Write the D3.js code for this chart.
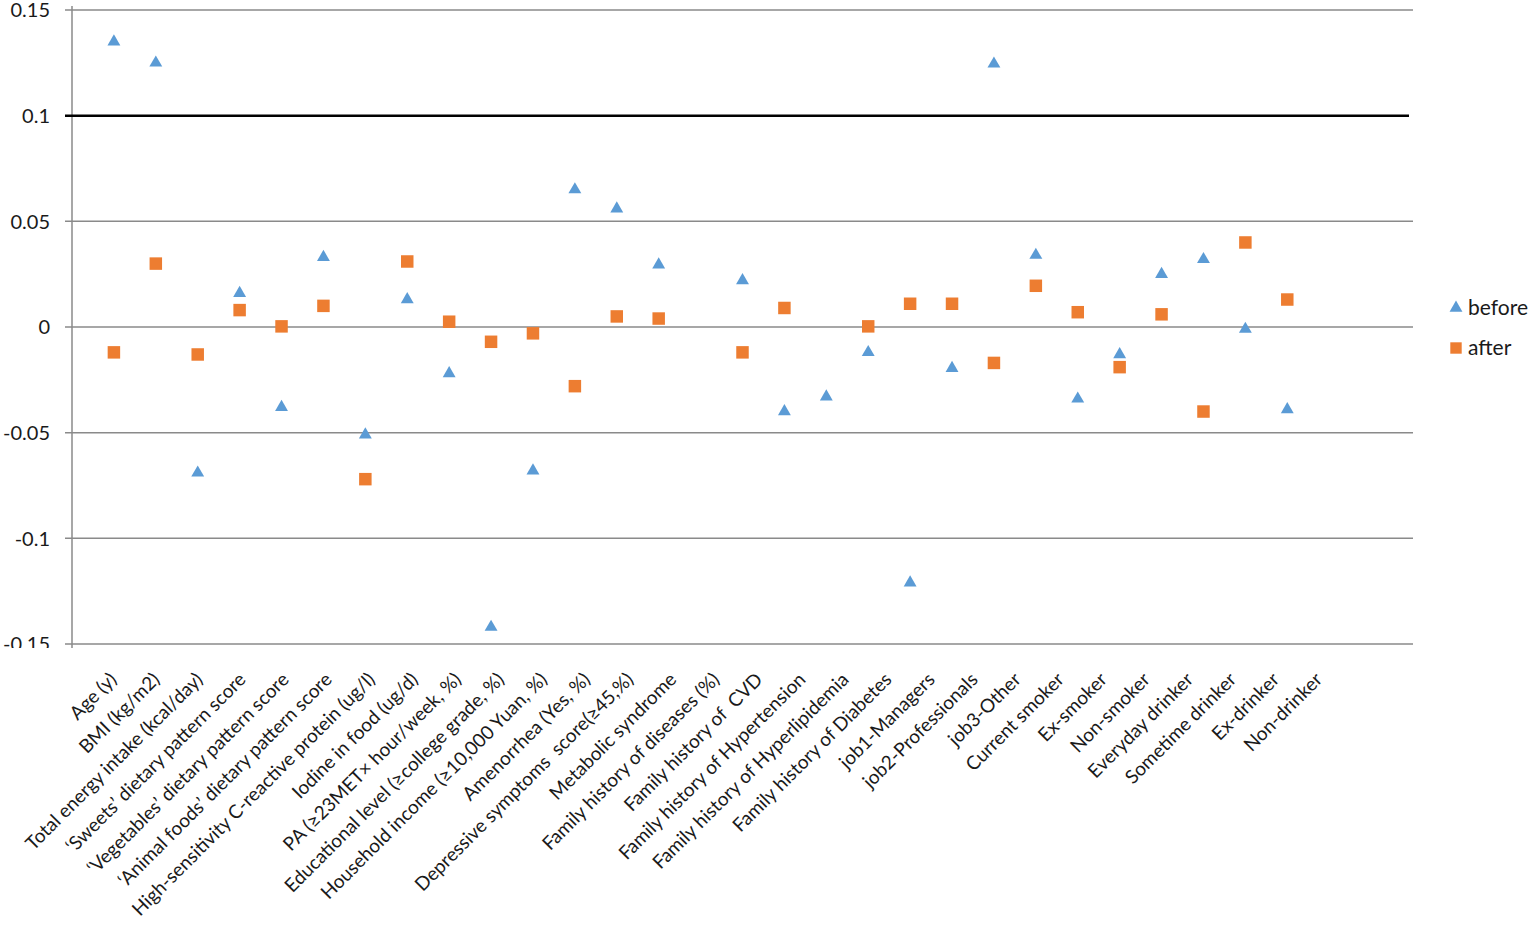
<!DOCTYPE html>
<html>
<head>
<meta charset="utf-8">
<title>before / after</title>
<script src="https://cdn.jsdelivr.net/npm/d3@7"></script>
<style>
    body { margin: 0; background: #fff; }
    text { font-family: Lato, "Open Sans", sans-serif; }
</style>
</head>
<body>
<div id="chart"></div>
<script type="text/javascript">
    var categories = [
        "Age (y)", "BMI (kg/m2)", "Total energy intake (kcal/day)",
        "\u2018Sweets\u2019 dietary pattern score", "\u2018Vegetables\u2019 dietary pattern score",
        "\u2018Animal foods\u2019 dietary pattern score", "High-sensitivity C-reactive protein (ug/l)",
        "Iodine in food (ug/d)", "PA (\u226523MET\u00d7 hour/week, %)",
        "Educational level (\u2265college grade, %)", "Household income (\u226510,000 Yuan, %)",
        "Amenorrhea (Yes, %)", "Depressive symptoms  score(\u226545,%)", "Metabolic syndrome",
        "Family history of diseases (%)", "Family history of  CVD", "Family history of Hypertension",
        "Family history of Hyperlipidemia", "Family history of Diabetes", "job1-Managers",
        "job2-Professionals", "job3-Other", "Current smoker", "Ex-smoker", "Non-smoker",
        "Everyday drinker", "Sometime drinker", "Ex-drinker", "Non-drinker"
    ];

    var before = [0.135, 0.125, -0.069, 0.016, -0.038, 0.033, -0.051, 0.013, -0.022, -0.142,
                  -0.068, 0.065, 0.056, 0.0295, null, 0.022, -0.040, -0.033, -0.012, -0.121,
                  -0.0195, 0.1245, 0.034, -0.034, -0.013, 0.025, 0.032, -0.001, -0.039];

    var after = [-0.012, 0.030, -0.013, 0.008, 0.0003, 0.010, -0.072, 0.031, 0.0025, -0.007,
                 -0.003, -0.028, 0.005, 0.004, null, -0.012, 0.009, null, 0.0003, 0.011,
                 0.011, -0.017, 0.0195, 0.007, -0.019, 0.006, -0.040, 0.040, 0.013];

    var yTicks = [-0.15, -0.1, -0.05, 0, 0.05, 0.1, 0.15];
    var yTickLabels = ["-0.15", "-0.1", "-0.05", "0", "0.05", "0.1", "0.15"];
    var threshold = 0.1;
    var seriesNames = ["before", "after"];

    var width = 1535;
    var height = 925;

    var xScale = d3.scaleLinear().domain([0, 32]).range([72, 1413]);
    var labelScale = d3.scaleLinear().domain([0, 32]).range([72, 1450]);
    var yScale = d3.scaleLinear().domain([-0.15, 0.15]).range([644, 10]);

    var svg = d3.select("#chart").append("svg")
        .attr("width", width)
        .attr("height", height)
        .style("background", "#fff");

    svg.append("defs").append("clipPath").attr("id", "yclip")
        .append("rect").attr("x", 0).attr("y", 0).attr("width", 70).attr("height", 648);

    // gridlines
    svg.append("g").selectAll("line")
        .data(yTicks.filter(function(d) { return d !== threshold; }))
        .enter().append("line")
            .attr("x1", 65).attr("x2", xScale(32))
            .attr("y1", function(d) { return yScale(d); })
            .attr("y2", function(d) { return yScale(d); })
            .style("stroke", "#8a8a8a")
            .style("stroke-width", 1.5);

    // vertical axis
    svg.append("line")
        .attr("x1", xScale(0)).attr("x2", xScale(0))
        .attr("y1", yScale(0.15) - 4).attr("y2", yScale(-0.15) + 4)
        .style("stroke", "#8a8a8a")
        .style("stroke-width", 1.5);

    // reference line
    svg.append("line")
        .attr("x1", 65).attr("x2", xScale(32) - 4)
        .attr("y1", yScale(threshold)).attr("y2", yScale(threshold))
        .style("stroke", "#000")
        .style("stroke-width", 2.5);

    // y tick labels
    svg.append("g").attr("clip-path", "url(#yclip)").selectAll("text")
        .data(yTicks)
        .enter().append("text")
            .attr("x", 50)
            .attr("y", function(d) { return yScale(d); })
            .attr("dy", "0.36em")
            .attr("text-anchor", "end")
            .style("font-size", "20px")
            .style("fill", "#1a1a1a")
            .text(function(d, i) { return yTickLabels[i]; });

    // x labels
    svg.append("g").selectAll("text")
        .data(categories)
        .enter().append("text")
            .attr("transform", function(d, i) {
                return "translate(" + (labelScale(i + 1) - 2) + ",676) rotate(-45)";
            })
            .attr("dy", "0.35em")
            .attr("text-anchor", "end")
            .style("font-size", "19px")
            .style("fill", "#1a1a1a")
            .style("white-space", "pre")
            .text(function(d) { return d; });

    var tri = d3.symbol().type(d3.symbolTriangle).size(72);
    var sq = d3.symbol().type(d3.symbolSquare).size(156);

    svg.append("g").selectAll("path")
        .data(after.map(function(v, i) { return { v: v, i: i }; })
            .filter(function(d) { return d.v !== null; }))
        .enter().append("path")
            .attr("d", sq)
            .attr("transform", function(d) {
                return "translate(" + xScale(d.i + 1) + "," + yScale(d.v) + ")";
            })
            .style("fill", "#ED7D31");

    svg.append("g").selectAll("path")
        .data(before.map(function(v, i) { return { v: v, i: i }; })
            .filter(function(d) { return d.v !== null; }))
        .enter().append("path")
            .attr("d", tri)
            .attr("transform", function(d) {
                return "translate(" + xScale(d.i + 1) + "," + yScale(d.v) + ")";
            })
            .style("fill", "#5B9BD5");

    // legend
    var legend = svg.append("g").attr("transform", "translate(1456,308)");
    legend.append("path").attr("d", tri).style("fill", "#5B9BD5");
    legend.append("path").attr("d", d3.symbol().type(d3.symbolSquare).size(130))
        .attr("transform", "translate(0,40)").style("fill", "#ED7D31");
    legend.selectAll("text")
        .data(seriesNames)
        .enter().append("text")
            .attr("x", 12)
            .attr("y", function(d, i) { return i * 40; })
            .attr("dy", "0.35em")
            .style("font-size", "21px")
            .style("fill", "#1a1a1a")
            .text(function(d) { return d; });
</script>
</body>
</html>
